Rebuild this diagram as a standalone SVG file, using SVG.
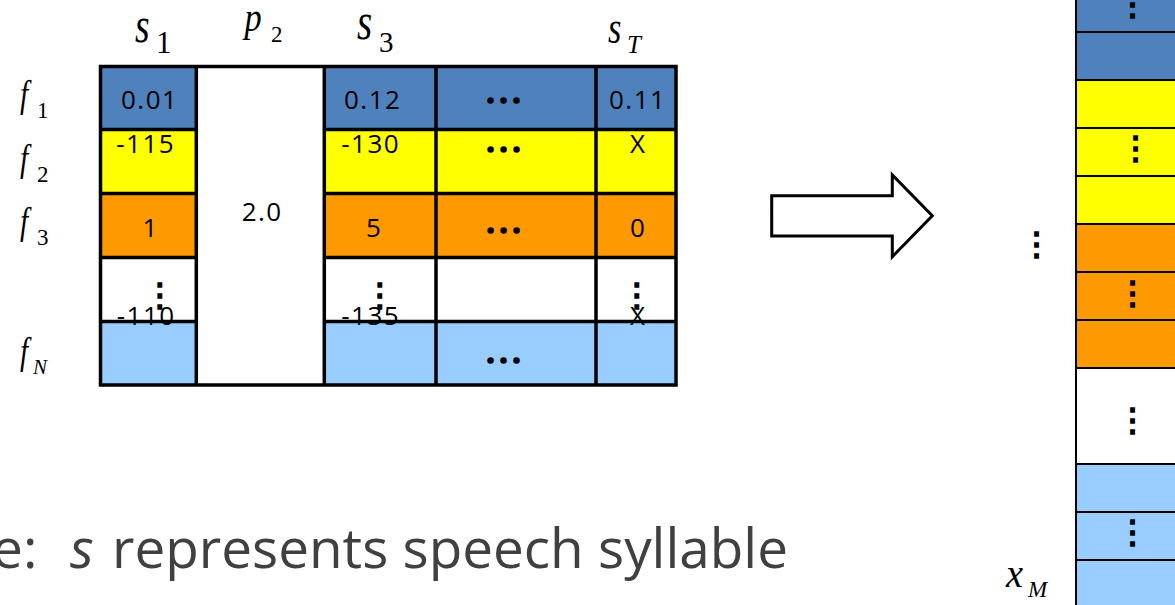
<svg xmlns="http://www.w3.org/2000/svg" width="1175" height="605" viewBox="0 0 1175 605">
<style>
.cell{font-family:"Open Sans","Noto Sans",sans-serif;font-size:26px;fill:#000;letter-spacing:1.5px;text-anchor:middle}
.math{font-family:"Liberation Serif","Times New Roman",serif;fill:#000}
.it{font-style:italic}
.vd{font-family:"Noto Sans CJK JP","DejaVu Sans",sans-serif;font-size:32px;fill:#000;stroke:#000;stroke-width:1.6;text-anchor:middle}
.hd{font-family:"Noto Sans CJK JP","DejaVu Sans",sans-serif;font-size:39px;fill:#000;stroke:#000;stroke-width:1.4;text-anchor:middle}
.grid{stroke:#000;stroke-width:3.5;fill:none}
.vgrid{stroke:#000;stroke-width:2;fill:none}
.note{font-family:"Open Sans","Noto Sans",sans-serif;font-size:55px;fill:#404040}
</style>
<rect width="1175" height="605" fill="#fff"/>

<g id="column-labels" class="math">
  <text class="it" x="135" y="41.5" font-size="50" textLength="14.6" lengthAdjust="spacingAndGlyphs">s</text>
  <text x="156" y="53" font-size="31">1</text>
  <text class="it" x="244.6" y="31" font-size="43" textLength="17.2" lengthAdjust="spacingAndGlyphs">p</text>
  <text x="271" y="42" font-size="23">2</text>
  <text class="it" x="357" y="38.5" font-size="52" textLength="15.2" lengthAdjust="spacingAndGlyphs">s</text>
  <text x="379" y="52" font-size="29">3</text>
  <text class="it" x="608" y="42.5" font-size="46" textLength="13.4" lengthAdjust="spacingAndGlyphs">s</text>
  <text class="it" x="627" y="53" font-size="25">T</text>
</g>

<g id="row-labels" class="math">
  <text class="it" x="20" y="107" font-size="37" textLength="8.2" lengthAdjust="spacingAndGlyphs">f</text>
  <text x="37" y="118" font-size="23">1</text>
  <text class="it" x="20" y="171" font-size="37" textLength="8.2" lengthAdjust="spacingAndGlyphs">f</text>
  <text x="37" y="182" font-size="23">2</text>
  <text class="it" x="20" y="234" font-size="37" textLength="8.2" lengthAdjust="spacingAndGlyphs">f</text>
  <text x="37" y="245" font-size="23">3</text>
  <text class="it" x="20" y="364" font-size="37" textLength="8.2" lengthAdjust="spacingAndGlyphs">f</text>
  <text class="it" x="33" y="374" font-size="21">N</text>
</g>

<g id="feature-table">
  <rect x="100.5" y="66.5" width="575.5" height="63" fill="#4F81BD"/>
  <rect x="100.5" y="129.5" width="575.5" height="64" fill="#FFFF00"/>
  <rect x="100.5" y="193.5" width="575.5" height="64" fill="#FF9900"/>
  <rect x="100.5" y="257.5" width="575.5" height="64" fill="#FFFFFF"/>
  <rect x="100.5" y="321.5" width="575.5" height="63.5" fill="#99CCFF"/>
  <rect x="196.3" y="66.5" width="128" height="318.5" fill="#FFFFFF"/>
  <rect class="grid" x="100.5" y="66.5" width="575.5" height="318.5"/>
  <path class="grid" d="M196.3 66.5V385M324.3 66.5V385M436 66.5V385M596 66.5V385M100.5 129.5H196.3M324.3 129.5H676M100.5 193.5H196.3M324.3 193.5H676M100.5 257.5H196.3M324.3 257.5H676M100.5 321.5H196.3M324.3 321.5H676"/>

  <text class="cell" x="149.7" y="109">0.01</text>
  <text class="cell" x="372.7" y="109">0.12</text>
  <text class="cell" x="637.7" y="109">0.11</text>
  <text class="cell" x="145.7" y="153">-115</text>
  <text class="cell" x="370.7" y="153">-130</text>
  <text class="cell" x="638.2" y="153">X</text>
  <text class="cell" x="150.7" y="237">1</text>
  <text class="cell" x="374.2" y="237">5</text>
  <text class="cell" x="638.2" y="237">0</text>
  <text class="cell" x="262.2" y="221">2.0</text>
  <text class="cell" x="146.2" y="325">-110</text>
  <text class="cell" x="370.7" y="325">-135</text>
  <text class="cell" x="638.2" y="325">X</text>

  <text class="vd" x="160" y="306">⋮</text>
  <text class="vd" x="380" y="306">⋮</text>
  <text class="vd" x="637" y="306">⋮</text>

  <text class="hd" x="503.5" y="115">⋯</text>
  <text class="hd" x="503.5" y="164">⋯</text>
  <text class="hd" x="503.5" y="245">⋯</text>
  <text class="hd" x="503.5" y="375">⋯</text>
</g>

<g id="connectors">
  <g id="arrow">
    <polygon points="771.7,195.7 892.3,195.7 892.3,175 932.3,215.7 892.3,256.7 892.3,236 771.7,236" fill="#fff" stroke="#000" stroke-width="3"/>
  </g>
</g>

<g id="feature-vector">
  <rect x="1076" y="-2" width="101" height="34" fill="#4F81BD"/>
  <rect x="1076" y="32" width="101" height="48" fill="#4F81BD"/>
  <rect x="1076" y="80" width="101" height="144" fill="#FFFF00"/>
  <rect x="1076" y="224" width="101" height="144" fill="#FF9900"/>
  <rect x="1076" y="368" width="101" height="96" fill="#FFFFFF"/>
  <rect x="1076" y="464" width="101" height="143" fill="#99CCFF"/>
  <path class="vgrid" d="M1076 0V605M1076 32H1175M1076 80H1175M1076 128H1175M1076 176H1175M1076 224H1175M1076 272H1175M1076 320H1175M1076 368H1175M1076 464H1175M1076 512H1175M1076 560H1175"/>
  <text class="vd" x="1132.7" y="15">⋮</text>
  <text class="vd" x="1135.7" y="159">⋮</text>
  <text class="vd" x="1132.7" y="304">⋮</text>
  <text class="vd" x="1132.7" y="431">⋮</text>
  <text class="vd" x="1132.7" y="543">⋮</text>
  <text class="vd" x="1036.7" y="255">⋮</text>
  <text class="math it" x="1006" y="587" font-size="39" textLength="17" lengthAdjust="spacingAndGlyphs">x</text>
  <text class="math it" x="1028" y="597" font-size="23">M</text>
</g>

<g id="note">
  <text class="note" x="-8" y="568">e:</text>
  <text class="note" x="70" y="568" font-style="italic">s</text>
  <text class="note" x="112" y="568" textLength="676" lengthAdjust="spacingAndGlyphs">represents speech syllable</text>
</g>
</svg>
